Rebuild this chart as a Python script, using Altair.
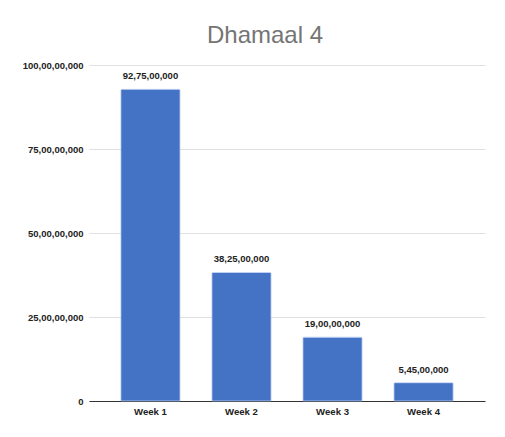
import altair as alt
import pandas as pd

weeks = ["Week 1", "Week 2", "Week 3", "Week 4"]
collections = [927500000, 382500000, 190000000, 54500000]
labels = ["92,75,00,000", "38,25,00,000", "19,00,00,000", "5,45,00,000"]
y_ticks = [0, 250000000, 500000000, 750000000, 1000000000]
y_tick_labels = ["0", "25,00,00,000", "50,00,00,000", "75,00,00,000", "100,00,00,000"]

df = pd.DataFrame({"week": weeks, "value": collections, "label": labels})

label_map = "{" + ", ".join(f"'{v}': '{l}'" for v, l in zip(y_ticks, y_tick_labels)) + "}"
indian = f"{label_map}[format(datum.value, 'd')]"

FONT = "Liberation Sans"

x = alt.X("week:N", sort=weeks, title=None,
          scale=alt.Scale(paddingInner=0.35, paddingOuter=0.35),
          axis=alt.Axis(labelAngle=0, labelFont=FONT, labelFontSize=9.6, labelFontWeight="bold",
                        labelColor="#222222", ticks=False, domainColor="#333333", domainWidth=1,
                        labelPadding=5, grid=False))
y = alt.Y("value:Q", title=None,
          scale=alt.Scale(domain=[0, 1000000000]),
          axis=alt.Axis(values=y_ticks, labelExpr=indian, labelFont=FONT, labelFontSize=9.5,
                        labelFontWeight="bold", labelColor="#222222", ticks=False, domain=False,
                        gridColor="#e0e0e0", labelPadding=6))

bars = alt.Chart(df).mark_bar(color="#4472C4", stroke="#a9c0ee", strokeWidth=0.6,
                              cornerRadiusTopLeft=1, cornerRadiusTopRight=1).encode(x=x, y=y)
text = alt.Chart(df).mark_text(font=FONT, fontSize=9.5, fontWeight="bold", color="#222222",
                               baseline="alphabetic", dy=-10).encode(x=x, y=y, text="label:N")

chart = (bars + text).properties(
    width=396, height=336,
    title=alt.TitleParams("Dhamaal 4", font=FONT, fontSize=24, fontWeight="normal",
                          color="#757575", anchor="middle", dx=-22, dy=29, offset=22,
                          baseline="alphabetic"),
    autosize=alt.AutoSizeParams(type="none"),
    padding={"left": 81, "top": 57, "right": 10, "bottom": 30},
    background="white",
).configure_view(stroke=None)

chart.save("out.html", embed_options={"renderer": "svg", "actions": False})
